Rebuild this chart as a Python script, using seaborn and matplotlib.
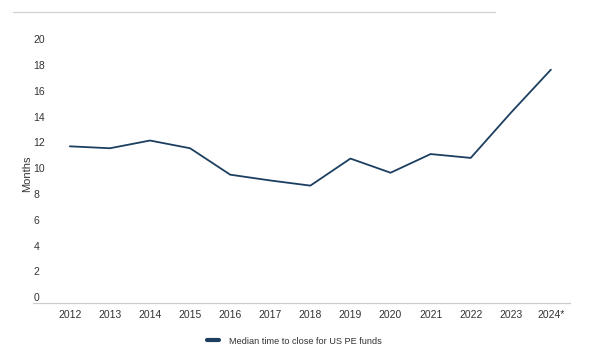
import pandas as pd
import matplotlib
matplotlib.use("Agg")
import matplotlib.pyplot as plt
import seaborn as sns
from matplotlib.lines import Line2D

# --- data ---
years = ["2012", "2013", "2014", "2015", "2016", "2017", "2018",
         "2019", "2020", "2021", "2022", "2023", "2024*"]
months = [11.7, 11.55, 12.15, 11.55, 9.5, 9.05, 8.65,
          10.75, 9.65, 11.1, 10.8, 14.3, 17.65]
y_ticks = [0, 2, 4, 6, 8, 10, 12, 14, 16, 18, 20]
series_name = "Median time to close for US PE funds"

LINE_COLOR = "#1c3f60"
TEXT_COLOR = "#333333"

sns.set_theme(style="white")
plt.rcParams["font.family"] = ["Liberation Sans", "DejaVu Sans"]

df = pd.DataFrame({"idx": range(len(years)), "Months": months})

fig = plt.figure(figsize=(6.10, 3.58), dpi=100)
ax = fig.add_axes([0.054, 0.154, 0.880, 0.754])

sns.lineplot(data=df, x="idx", y="Months", ax=ax, color=LINE_COLOR,
             linewidth=1.3, label=series_name, legend=False)

ax.set_xlim(-0.92, 12.47)
ax.set_ylim(-0.45, 20.5)
ax.set_xticks(range(len(years)))
ax.set_xticklabels(years)
ax.set_yticks(y_ticks)
ax.tick_params(axis="both", length=0, labelsize=7.5, colors=TEXT_COLOR)
ax.tick_params(axis="x", pad=5)
ax.tick_params(axis="y", pad=-8)
for lab in ax.get_yticklabels():
    lab.set_horizontalalignment("left")
    lab.set_x(-0.02)
ax.set_xlabel("")
ax.set_ylabel("Months", fontsize=8, color=TEXT_COLOR, labelpad=2)
ax.yaxis.set_label_coords(-0.002, 0.48)

for side in ["top", "right", "left"]:
    ax.spines[side].set_visible(False)
ax.spines["bottom"].set_color("#cccccc")
ax.spines["bottom"].set_linewidth(0.9)

# thin grey rule along the top
fig.add_artist(Line2D([13 / 610, 495 / 610], [1 - 12 / 358, 1 - 12 / 358],
                      color="#d0d0d0", linewidth=0.9))

handle = Line2D([], [], color=LINE_COLOR, linewidth=3)
fig.legend([handle], [series_name], loc="center", bbox_to_anchor=(0.482, 1 - 341 / 358),
           frameon=False, fontsize=6.6, handlelength=1.4, handletextpad=1.0,
           labelcolor=TEXT_COLOR)

fig.savefig("out.png", dpi=100)
